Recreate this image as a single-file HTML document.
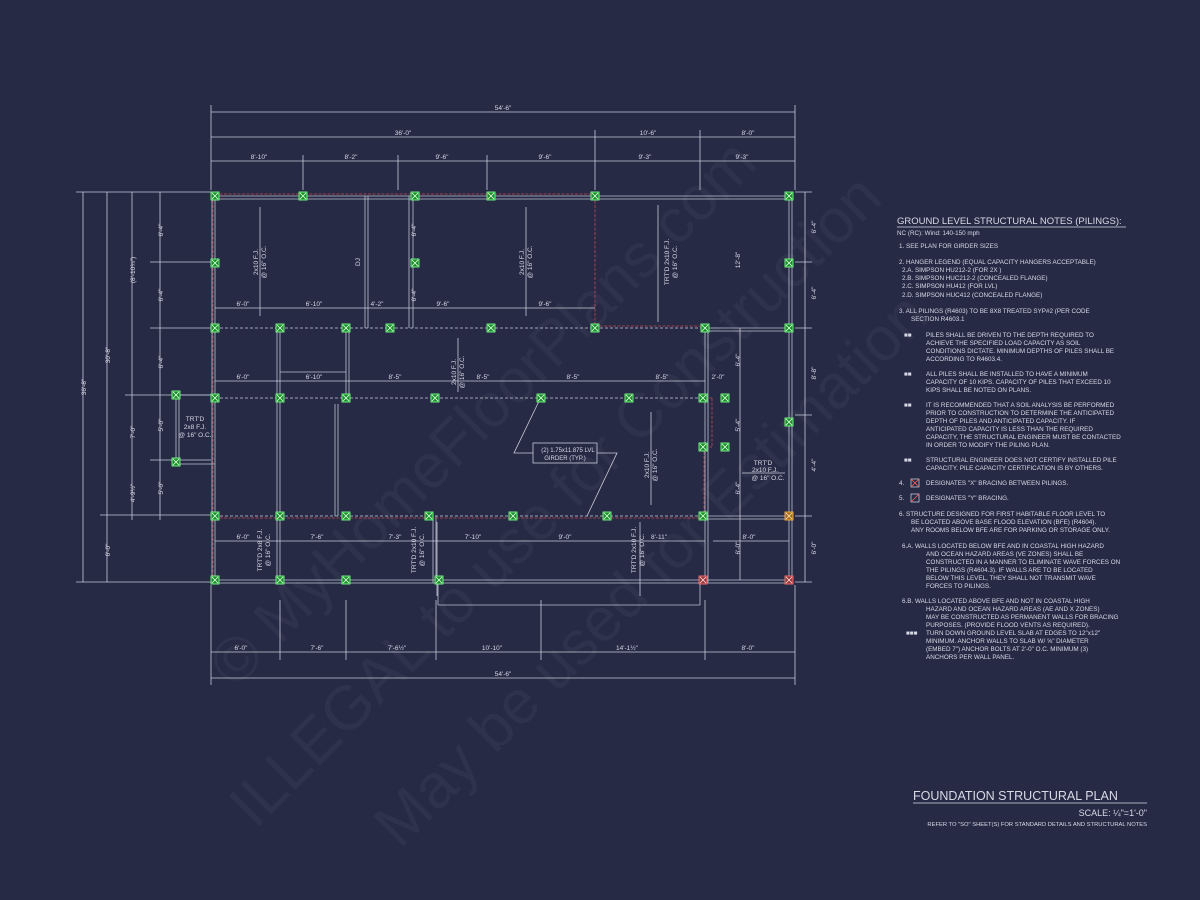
<!DOCTYPE html>
<html><head><meta charset="utf-8"><style>
html,body{margin:0;padding:0;background:#262a45;}
svg{display:block}
text{font-family:"Liberation Sans",sans-serif;fill:#d8dae6}
.n{font-size:6.3px}
.d{font-size:6.5px}
</style></head><body>
<svg width="1200" height="900" viewBox="0 0 1200 900" xmlns="http://www.w3.org/2000/svg">
<defs>
<pattern id="px" patternUnits="objectBoundingBox" patternContentUnits="objectBoundingBox" width="1" height="1">
<rect width="1" height="1" fill="#1c8a2c"/>
<path d="M0.12 0.12L0.88 0.88M0.88 0.12L0.12 0.88" stroke="#d6ffd8" stroke-width="0.1"/>
</pattern>
<pattern id="pr" patternUnits="objectBoundingBox" patternContentUnits="objectBoundingBox" width="1" height="1">
<rect width="1" height="1" fill="#8a3a3a"/>
<path d="M0.12 0.12L0.88 0.88M0.88 0.12L0.12 0.88" stroke="#ffd0d0" stroke-width="0.1"/>
</pattern>
<pattern id="po" patternUnits="objectBoundingBox" patternContentUnits="objectBoundingBox" width="1" height="1">
<rect width="1" height="1" fill="#a06a20"/>
<path d="M0.12 0.12L0.88 0.88M0.88 0.12L0.12 0.88" stroke="#ffe0b0" stroke-width="0.1"/>
</pattern>
</defs>
<rect width="1200" height="900" fill="#262a45"/>
<!-- watermark -->
<g font-family="Liberation Serif,serif">
<text x="0" y="0" font-size="62" transform="translate(235,690) rotate(-45)" style="fill:rgba(255,255,255,0.04)">© MyHomeFloorPlans.com</text>
<text x="0" y="0" font-size="62" transform="translate(255,830) rotate(-45)" style="fill:rgba(255,255,255,0.04)">ILLEGAL to use for Construction</text>
<text x="0" y="0" font-size="62" transform="translate(400,850) rotate(-45)" style="fill:rgba(255,255,255,0.04)">May be used for Estimation</text>
</g>
<g stroke="#c9ccd8" stroke-width="0.8" fill="none">
<line x1="211" y1="112" x2="795" y2="112"/>
<line x1="211" y1="137" x2="795" y2="137"/>
<line x1="211" y1="161" x2="795" y2="161"/>
<g>
<line x1="211" y1="105" x2="211" y2="190"/><line x1="795" y1="105" x2="795" y2="190"/>
<line x1="595" y1="130" x2="595" y2="190"/><line x1="700" y1="130" x2="700" y2="190"/>
<line x1="303" y1="155" x2="303" y2="190"/><line x1="398" y1="155" x2="398" y2="190"/><line x1="487" y1="155" x2="487" y2="190"/>
</g>
<line x1="211" y1="652" x2="795" y2="652"/>
<line x1="211" y1="678" x2="795" y2="678"/>
<line x1="211" y1="585" x2="211" y2="685"/><line x1="795" y1="585" x2="795" y2="685"/>
<line x1="280" y1="600" x2="280" y2="660"/><line x1="346" y1="600" x2="346" y2="660"/><line x1="436" y1="600" x2="436" y2="660"/><line x1="541" y1="600" x2="541" y2="660"/><line x1="705" y1="600" x2="705" y2="660"/>
<line x1="83" y1="192" x2="83" y2="582"/>
<line x1="107" y1="192" x2="107" y2="582"/>
<line x1="132" y1="192" x2="132" y2="520"/>
<line x1="160" y1="192" x2="160" y2="520"/>
<line x1="76" y1="192" x2="211" y2="192"/><line x1="76" y1="582" x2="211" y2="582"/><line x1="100" y1="515" x2="211" y2="515"/>
<line x1="125" y1="395" x2="211" y2="395"/><line x1="150" y1="262" x2="211" y2="262"/><line x1="150" y1="328" x2="211" y2="328"/><line x1="150" y1="460" x2="211" y2="460"/>
<line x1="805" y1="192" x2="805" y2="582"/>
<line x1="795" y1="192" x2="812" y2="192"/><line x1="795" y1="262" x2="812" y2="262"/><line x1="795" y1="328" x2="812" y2="328"/><line x1="795" y1="415" x2="812" y2="415"/><line x1="795" y1="516" x2="812" y2="516"/><line x1="795" y1="582" x2="812" y2="582"/>
<line x1="740" y1="328" x2="740" y2="580"/>
<g stroke="#bfc3d2">
<line x1="215" y1="196" x2="789" y2="196"/><line x1="215" y1="199" x2="789" y2="199"/>
<line x1="789" y1="196" x2="789" y2="580"/><line x1="792" y1="196" x2="792" y2="580"/>
<line x1="215" y1="580" x2="789" y2="580"/><line x1="215" y1="583" x2="789" y2="583"/>
<line x1="215" y1="196" x2="215" y2="580"/><line x1="212" y1="196" x2="212" y2="580"/>
<line x1="705" y1="328" x2="705" y2="583"/><line x1="708" y1="328" x2="708" y2="583"/>
<line x1="705" y1="328" x2="789" y2="328"/><line x1="705" y1="331" x2="789" y2="331"/>
<line x1="705" y1="516" x2="789" y2="516"/><line x1="705" y1="519" x2="789" y2="519"/>
<line x1="280" y1="328" x2="280" y2="583"/><line x1="277" y1="328" x2="277" y2="583"/>
<line x1="346" y1="328" x2="346" y2="398"/><line x1="349" y1="328" x2="349" y2="398"/>
<line x1="280" y1="372" x2="346" y2="372"/>
<line x1="365" y1="196" x2="365" y2="328"/><line x1="368" y1="196" x2="368" y2="328"/>
<line x1="409" y1="196" x2="409" y2="328"/><line x1="413" y1="196" x2="413" y2="328"/>
<line x1="433" y1="516" x2="433" y2="583"/><line x1="436" y1="516" x2="436" y2="583"/>
<line x1="438" y1="583" x2="438" y2="605"/><line x1="700" y1="583" x2="700" y2="605"/><line x1="438" y1="605" x2="700" y2="605"/>
<line x1="335" y1="404" x2="335" y2="516"/><line x1="338" y1="404" x2="338" y2="516"/>
<line x1="176" y1="395" x2="215" y2="395"/><line x1="176" y1="398" x2="176" y2="464"/><line x1="179" y1="398" x2="179" y2="464"/><line x1="176" y1="464" x2="215" y2="464"/>
</g>
<g stroke="#c9ccd8" stroke-dasharray="3,2">
<line x1="215" y1="328" x2="705" y2="328"/>
<line x1="215" y1="398" x2="705" y2="398"/>
<line x1="215" y1="516" x2="705" y2="516"/>
</g>
<g stroke="#c8484e" stroke-dasharray="3,1.5">
<line x1="215" y1="194" x2="595" y2="194"/><line x1="213" y1="196" x2="213" y2="580"/>
<line x1="595" y1="196" x2="595" y2="328"/><line x1="595" y1="326" x2="705" y2="326"/>
<line x1="215" y1="518" x2="705" y2="518"/>
<line x1="705" y1="398" x2="712" y2="398"/><line x1="712" y1="398" x2="712" y2="447"/><line x1="705" y1="447" x2="712" y2="447"/>
<line x1="704" y1="447" x2="704" y2="516"/>
</g>
<line x1="215" y1="308" x2="595" y2="308"/>
<line x1="215" y1="381" x2="705" y2="381"/>
<line x1="215" y1="541" x2="705" y2="541"/>
<line x1="713" y1="541" x2="789" y2="541"/>
<line x1="742" y1="473" x2="785" y2="473"/>
<line x1="260" y1="207" x2="260" y2="316"/><line x1="526" y1="207" x2="526" y2="316"/>
<line x1="658" y1="205" x2="658" y2="322"/><line x1="458" y1="338" x2="458" y2="392"/>
<line x1="651" y1="412" x2="651" y2="505"/><line x1="437" y1="522" x2="437" y2="596"/><line x1="640" y1="522" x2="640" y2="596"/>
<rect x="533" y="443" width="64" height="20"/>
<polyline points="533,453 514,453 541,397"/>
<polyline points="597,453 617,453 587,516"/>
</g>
<!-- piles -->
<g fill="url(#px)" stroke="#7dff8c" stroke-width="0.9">
<rect x="211" y="192" width="8" height="8"/><rect x="299" y="192" width="8" height="8"/><rect x="411" y="192" width="8" height="8"/><rect x="487" y="192" width="8" height="8"/><rect x="591" y="192" width="8" height="8"/><rect x="785" y="192" width="8" height="8"/>
<rect x="211" y="259" width="8" height="8"/><rect x="411" y="259" width="8" height="8"/><rect x="785" y="259" width="8" height="8"/>
<rect x="211" y="324" width="8" height="8"/><rect x="276" y="324" width="8" height="8"/><rect x="342" y="324" width="8" height="8"/><rect x="386" y="324" width="8" height="8"/><rect x="487" y="324" width="8" height="8"/><rect x="591" y="324" width="8" height="8"/><rect x="701" y="324" width="8" height="8"/><rect x="785" y="324" width="8" height="8"/>
<rect x="211" y="394" width="8" height="8"/><rect x="276" y="394" width="8" height="8"/><rect x="342" y="394" width="8" height="8"/><rect x="431" y="394" width="8" height="8"/><rect x="537" y="394" width="8" height="8"/><rect x="625" y="394" width="8" height="8"/><rect x="699" y="394" width="8" height="8"/><rect x="721" y="394" width="8" height="8"/><rect x="785" y="418" width="8" height="8"/>
<rect x="172" y="391" width="8" height="8"/><rect x="172" y="458" width="8" height="8"/>
<rect x="699" y="443" width="8" height="8"/><rect x="721" y="443" width="8" height="8"/>
<rect x="211" y="512" width="8" height="8"/><rect x="276" y="512" width="8" height="8"/><rect x="342" y="512" width="8" height="8"/><rect x="425" y="512" width="8" height="8"/><rect x="509" y="512" width="8" height="8"/><rect x="603" y="512" width="8" height="8"/><rect x="699" y="512" width="8" height="8"/>
<rect x="211" y="576" width="8" height="8"/><rect x="276" y="576" width="8" height="8"/><rect x="342" y="576" width="8" height="8"/><rect x="435" y="576" width="8" height="8"/>
</g>
<rect x="785" y="512" width="8" height="8" fill="url(#po)" stroke="#ffb44a" stroke-width="0.9"/>
<rect x="699" y="576" width="8" height="8" fill="url(#pr)" stroke="#ff7070" stroke-width="0.9"/>
<rect x="785" y="576" width="8" height="8" fill="url(#pr)" stroke="#ff7070" stroke-width="0.9"/>
<!-- dimension text -->
<g class="d" text-anchor="middle">
<text x="503" y="110">54'-6"</text>
<text x="403" y="135">36'-0"</text><text x="648" y="135">10'-6"</text><text x="748" y="135">8'-0"</text>
<text x="259" y="159">8'-10"</text><text x="351" y="159">8'-2"</text><text x="442" y="159">9'-6"</text><text x="545" y="159">9'-6"</text><text x="645" y="159">9'-3"</text><text x="742" y="159">9'-3"</text>
<text x="241" y="650">6'-0"</text><text x="317" y="650">7'-6"</text><text x="397" y="650">7'-6½"</text><text x="492" y="650">10'-10"</text><text x="627" y="650">14'-1½"</text><text x="748" y="650">8'-0"</text>
<text x="503" y="676">54'-6"</text>
<text x="243" y="306">6'-0"</text><text x="314" y="306">6'-10"</text><text x="377" y="306">4'-2"</text><text x="443" y="306">9'-6"</text><text x="545" y="306">9'-6"</text>
<text x="243" y="379">6'-0"</text><text x="314" y="379">6'-10"</text><text x="395" y="379">8'-5"</text><text x="483" y="379">8'-5"</text><text x="573" y="379">8'-5"</text><text x="662" y="379">8'-5"</text><text x="718" y="379">2'-0"</text>
<text x="243" y="539">6'-0"</text><text x="317" y="539">7'-6"</text><text x="395" y="539">7'-3"</text><text x="473" y="539">7'-10"</text><text x="565" y="539">9'-0"</text><text x="659" y="539">8'-11"</text><text x="749" y="539">8'-0"</text>
<text x="568" y="452" font-size="6">(2) 1.75x11.875 LVL</text><text x="565" y="460" font-size="6">GIRDER (TYP.)</text>
<text x="763" y="465">TRT'D</text><text x="765" y="472">2x10 F.J.</text><text x="768" y="480">@ 16" O.C.</text>
<text x="195" y="421">TRT'D</text><text x="195" y="429">2x8 F.J.</text><text x="195" y="437">@ 16" O.C.</text>
</g>
<g class="d" text-anchor="middle">
<text transform="translate(86,387) rotate(-90)">36'-8"</text>
<text transform="translate(110,355) rotate(-90)">30'-8"</text>
<text transform="translate(110,550) rotate(-90)">6'-0"</text>
<text transform="translate(135,270) rotate(-90)">(8'-10¾")</text>
<text transform="translate(135,432) rotate(-90)">7'-0"</text>
<text transform="translate(135,493) rotate(-90)">4'-9½"</text>
<text transform="translate(163,230) rotate(-90)">6'-4"</text><text transform="translate(163,295) rotate(-90)">6'-4"</text><text transform="translate(163,362) rotate(-90)">6'-4"</text><text transform="translate(163,425) rotate(-90)">5'-0"</text><text transform="translate(163,488) rotate(-90)">5'-0"</text>
<text transform="translate(816,227) rotate(-90)">6'-4"</text><text transform="translate(816,293) rotate(-90)">6'-4"</text><text transform="translate(816,373) rotate(-90)">8'-8"</text><text transform="translate(816,465) rotate(-90)">4'-4"</text><text transform="translate(816,548) rotate(-90)">6'-0"</text>
<text transform="translate(416,230) rotate(-90)">6'-4"</text><text transform="translate(416,295) rotate(-90)">6'-4"</text>
<text transform="translate(740,260) rotate(-90)">12'-8"</text>
<text transform="translate(740,360) rotate(-90)">6'-4"</text><text transform="translate(740,425) rotate(-90)">5'-4"</text><text transform="translate(740,488) rotate(-90)">6'-4"</text><text transform="translate(740,548) rotate(-90)">6'-0"</text>
<text transform="translate(360,262) rotate(-90)">DJ</text>
<text transform="translate(258,262) rotate(-90)">2x10 F.J.</text><text transform="translate(266,262) rotate(-90)">@ 16" O.C.</text>
<text transform="translate(524,262) rotate(-90)">2x10 F.J.</text><text transform="translate(532,262) rotate(-90)">@ 16" O.C.</text>
<text transform="translate(669,262) rotate(-90)">TRT'D 2x10 F.J.</text><text transform="translate(677,262) rotate(-90)">@ 16" O.C.</text>
<text transform="translate(456,372) rotate(-90)">2x10 F.J.</text><text transform="translate(464,372) rotate(-90)">@ 16" O.C.</text>
<text transform="translate(649,465) rotate(-90)">2x10 F.J.</text><text transform="translate(657,465) rotate(-90)">@ 16" O.C.</text>
<text transform="translate(262,550) rotate(-90)">TRT'D 2x8 F.J.</text><text transform="translate(270,550) rotate(-90)">@ 16" O.C.</text>
<text transform="translate(416,550) rotate(-90)">TRT'D 2x10 F.J.</text><text transform="translate(424,550) rotate(-90)">@ 16" O.C.</text>
<text transform="translate(636,550) rotate(-90)">TRT'D 2x10 F.J.</text><text transform="translate(644,550) rotate(-90)">@ 16" O.C.</text>
</g>
<!-- notes -->
<text x="897" y="224" font-size="9.5">GROUND LEVEL STRUCTURAL NOTES (PILINGS):</text>
<line x1="897" y1="227" x2="1126" y2="227" stroke="#d8dae6" stroke-width="0.7"/>
<g class="n">
<text x="897" y="235">NC (RC): Wind: 140-150 mph</text>
<text x="899" y="248">1.    SEE PLAN FOR GIRDER SIZES</text>
<text x="899" y="264">2.    HANGER LEGEND (EQUAL CAPACITY HANGERS ACCEPTABLE)</text>
<text x="902" y="272">2.A.     SIMPSON HU212-2 (FOR 2X )</text>
<text x="902" y="280">2.B.     SIMPSON HUC212-2 (CONCEALED FLANGE)</text>
<text x="902" y="288">2.C.     SIMPSON HU412 (FOR LVL)</text>
<text x="902" y="297">2.D.     SIMPSON HUC412 (CONCEALED FLANGE)</text>
<text x="899" y="313">3.    ALL PILINGS (R4603) TO BE 8X8 TREATED SYP#2 (PER CODE</text>
<text x="911" y="321">SECTION R4603.1</text>
<text x="904" y="337">■■</text><text x="926" y="337">PILES SHALL BE DRIVEN TO THE DEPTH REQUIRED TO</text>
<text x="926" y="345">ACHIEVE THE SPECIFIED LOAD CAPACITY AS SOIL</text>
<text x="926" y="353">CONDITIONS DICTATE. MINIMUM DEPTHS OF PILES SHALL BE</text>
<text x="926" y="361">ACCORDING TO R4603.4.</text>
<text x="904" y="376">■■</text><text x="926" y="376">ALL PILES SHALL BE INSTALLED TO HAVE A MINIMUM</text>
<text x="926" y="384">CAPACITY OF 10 KIPS. CAPACITY OF PILES THAT EXCEED 10</text>
<text x="926" y="392">KIPS SHALL BE NOTED ON PLANS.</text>
<text x="904" y="407">■■</text><text x="926" y="407">IT IS RECOMMENDED THAT A SOIL ANALYSIS BE PERFORMED</text>
<text x="926" y="415">PRIOR TO CONSTRUCTION TO DETERMINE THE ANTICIPATED</text>
<text x="926" y="423">DEPTH OF PILES AND ANTICIPATED CAPACITY. IF</text>
<text x="926" y="431">ANTICIPATED CAPACITY IS LESS THAN THE REQUIRED</text>
<text x="926" y="439">CAPACITY, THE STRUCTURAL ENGINEER MUST BE CONTACTED</text>
<text x="926" y="447">IN ORDER TO MODIFY THE PILING PLAN.</text>
<text x="904" y="462">■■</text><text x="926" y="462">STRUCTURAL ENGINEER DOES NOT CERTIFY INSTALLED PILE</text>
<text x="926" y="470">CAPACITY. PILE CAPACITY CERTIFICATION IS BY OTHERS.</text>
<text x="899" y="485">4.</text><text x="926" y="485">DESIGNATES "X" BRACING BETWEEN PILINGS.</text>
<text x="899" y="500">5.</text><text x="926" y="500">DESIGNATES "Y" BRACING.</text>
<text x="899" y="516">6.    STRUCTURE DESIGNED FOR FIRST HABITABLE FLOOR LEVEL TO</text>
<text x="911" y="524">BE LOCATED ABOVE BASE FLOOD ELEVATION (BFE) (R4604).</text>
<text x="911" y="532">ANY ROOMS BELOW BFE ARE FOR PARKING OR STORAGE ONLY.</text>
<text x="902" y="548">6.A.     WALLS LOCATED BELOW BFE AND IN COASTAL HIGH HAZARD</text>
<text x="926" y="556">AND OCEAN HAZARD AREAS (VE ZONES) SHALL BE</text>
<text x="926" y="564">CONSTRUCTED IN A MANNER TO ELIMINATE WAVE FORCES ON</text>
<text x="926" y="572">THE PILINGS (R4604.3). IF WALLS ARE TO BE LOCATED</text>
<text x="926" y="580">BELOW THIS LEVEL, THEY SHALL NOT TRANSMIT WAVE</text>
<text x="926" y="588">FORCES TO PILINGS.</text>
<text x="902" y="603">6.B.     WALLS LOCATED ABOVE BFE AND NOT IN COASTAL HIGH</text>
<text x="926" y="611">HAZARD AND OCEAN HAZARD AREAS (AE AND X ZONES)</text>
<text x="926" y="619">MAY BE CONSTRUCTED AS PERMANENT WALLS FOR BRACING</text>
<text x="926" y="627">PURPOSES. (PROVIDE FLOOD VENTS AS REQUIRED).</text>
<text x="906" y="635">■■■</text><text x="926" y="635">TURN DOWN GROUND LEVEL SLAB AT EDGES TO 12"x12"</text>
<text x="926" y="643">MINIMUM. ANCHOR WALLS TO SLAB W/ ⅝" DIAMETER</text>
<text x="926" y="651">(EMBED 7") ANCHOR BOLTS AT 2'-0" O.C. MINIMUM (3)</text>
<text x="926" y="659">ANCHORS PER WALL PANEL.</text>
</g>
<rect x="911" y="479" width="8" height="8" fill="none" stroke="#d8dae6" stroke-width="0.7"/>
<path d="M911 479l8 8M919 479l-8 8" stroke="#ff6060" stroke-width="0.8"/>
<rect x="911" y="494" width="8" height="8" fill="none" stroke="#d8dae6" stroke-width="0.7"/>
<path d="M919 494l-8 8" stroke="#ff6060" stroke-width="0.8"/>
<text x="913" y="800" font-size="12.5">FOUNDATION STRUCTURAL PLAN</text>
<line x1="913" y1="803" x2="1147" y2="803" stroke="#d8dae6" stroke-width="0.8"/>
<text x="1147" y="816" font-size="9" text-anchor="end">SCALE: ¼"=1'-0"</text>
<text x="1147" y="826" font-size="5.8" text-anchor="end">REFER TO "SO" SHEET(S) FOR STANDARD DETAILS AND STRUCTURAL NOTES</text>
</svg>
</body></html>
